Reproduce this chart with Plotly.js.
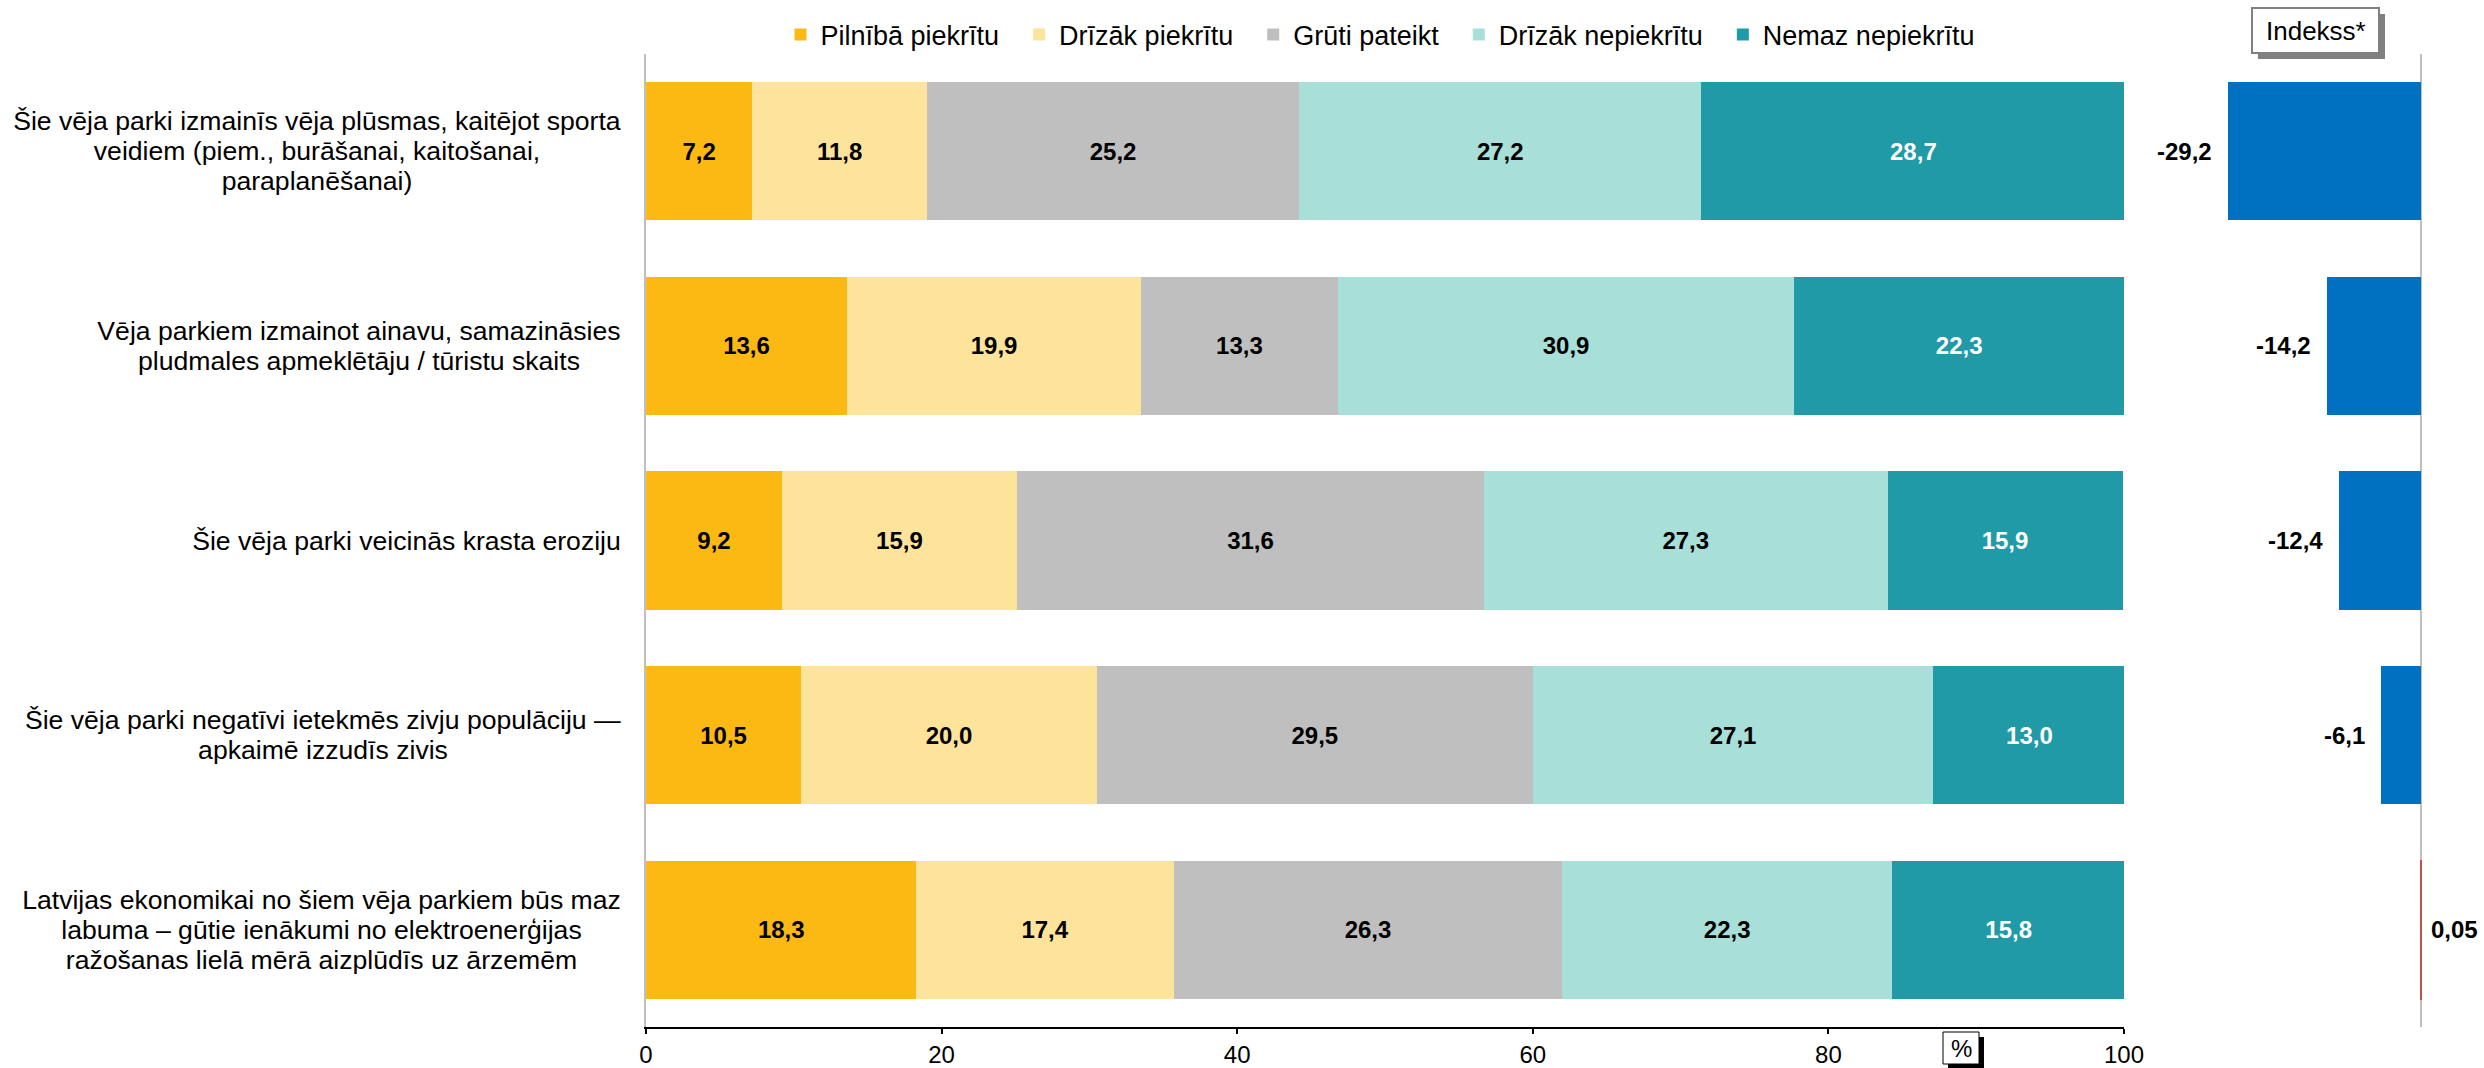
<!DOCTYPE html>
<html>
<head>
<meta charset="utf-8">
<script src="https://cdn.plot.ly/plotly-3.0.1.min.js"></script>
<style>html,body{margin:0;padding:0;background:#fff;}#chart{width:2484px;height:1068px;}</style>
</head>
<body>
<div id="chart"></div>
<script>
// ---- Data ----
const categories = [
  "Šie vēja parki izmainīs vēja plūsmas, kaitējot sporta<br>veidiem (piem., burāšanai, kaitošanai,<br>paraplanēšanai)",
  "Vēja parkiem izmainot ainavu, samazināsies<br>pludmales apmeklētāju / tūristu skaits",
  "Šie vēja parki veicinās krasta eroziju",
  "Šie vēja parki negatīvi ietekmēs zivju populāciju —<br>apkaimē izzudīs zivis",
  "Latvijas ekonomikai no šiem vēja parkiem būs maz<br>labuma – gūtie ienākumi no elektroenerģijas<br>ražošanas lielā mērā aizplūdīs uz ārzemēm"
];
const seriesNames = ["Pilnībā piekrītu", "Drīzāk piekrītu", "Grūti pateikt", "Drīzāk nepiekrītu", "Nemaz nepiekrītu"];
const pilnibaPiekritu   = [7.2, 13.6, 9.2, 10.5, 18.3];
const drizakPiekritu    = [11.8, 19.9, 15.9, 20.0, 17.4];
const grutiPateikt      = [25.2, 13.3, 31.6, 29.5, 26.3];
const drizakNepiekritu  = [27.2, 30.9, 27.3, 27.1, 22.3];
const nemazNepiekritu   = [28.7, 22.3, 15.9, 13.0, 15.8];
const indekss           = [-29.2, -14.2, -12.4, -6.1, 0.05];
const xTickVals = [0, 20, 40, 60, 80, 100];

// ---- Styles ----
const FONT = "Liberation Sans, Arial, sans-serif";
const colors = ["#FDB913", "#FDE49A", "#BFBFBF", "#A8DFD8", "#1F9AA6"];
const textColors = ["#000", "#000", "#000", "#000", "#fff"];
const seriesValues = [pilnibaPiekritu, drizakPiekritu, grutiPateikt, drizakNepiekritu, nemazNepiekritu];

const W = 2484, H = 1068;
const L = 646, R = 0, T = 54, B = 41;
const plotW = W - L - R, plotH = H - T - B;
const px2x = p => (p - L) / plotW;
const px2y = p => (H - B - p) / plotH;

const fmt1 = v => v.toFixed(1).replace('.', ',');
const fmtIdx = v => String(v).replace('.', ',');
const NBSP = '\u00a0';

const LABEL_SIZE = 26.6;
const canvas = document.createElement('canvas');
const ctx = canvas.getContext('2d');
ctx.font = LABEL_SIZE + 'px "Liberation Sans", Arial, sans-serif';
const measure = s => ctx.measureText(s).width;

const traces = seriesValues.map((vals, i) => ({
  type: 'bar',
  orientation: 'h',
  name: seriesNames[i] + (i < seriesNames.length - 1 ? NBSP.repeat(2) : ''),
  x: vals,
  y: categories,
  xaxis: 'x',
  yaxis: 'y',
  marker: {color: colors[i], line: {width: 0}},
  text: vals.map(fmt1),
  textposition: 'inside',
  insidetextanchor: 'middle',
  constraintext: 'none',
  textfont: {family: FONT, size: 24, weight: 'bold', color: textColors[i]},
  hoverinfo: 'x+name'
}));

traces.push({
  type: 'bar',
  orientation: 'h',
  name: 'Indekss*',
  x: indekss,
  y: categories,
  xaxis: 'x2',
  yaxis: 'y',
  showlegend: false,
  marker: {
    color: indekss.map(v => v >= 0 ? '#C0504D' : '#0070C0'),
    line: {width: indekss.map(v => v >= 0 ? 1.5 : 0), color: indekss.map(v => v >= 0 ? '#C0504D' : '#0070C0')}
  },
  hoverinfo: 'x'
});

const LINE_H = 30;
const annotations = [];
categories.forEach((c, i) => {
  const lines = c.split('<br>');
  const boxW = Math.ceil(Math.max(...lines.map(measure))) + 6;
  lines.forEach((ln, k) => {
    annotations.push({
      xref: 'paper', yref: 'y', x: 0, y: c,
      xanchor: 'right', yanchor: 'middle', xshift: -20,
      yshift: -(k - (lines.length - 1) / 2) * LINE_H,
      text: ln, align: 'center', showarrow: false,
      width: boxW,
      font: {family: FONT, size: LABEL_SIZE, color: '#000'}
    });
  });
  const v = indekss[i];
  annotations.push({
    xref: 'x2', yref: 'y', x: v, y: c,
    xanchor: v < 0 ? 'right' : 'left', yanchor: 'middle',
    xshift: v < 0 ? -14 : 8,
    text: fmtIdx(v), showarrow: false,
    font: {family: FONT, size: 24, weight: 'bold', color: '#000'}
  });
});
annotations.push({
  xref: 'paper', yref: 'paper', x: px2x(2315.5), y: px2y(31),
  xanchor: 'center', yanchor: 'middle', text: 'Indekss*', showarrow: false,
  font: {family: FONT, size: 26, color: '#000'}
});
annotations.push({
  xref: 'paper', yref: 'paper', x: px2x(1961), y: px2y(1048),
  xanchor: 'center', yanchor: 'middle', text: '%', showarrow: false,
  font: {family: FONT, size: 24, color: '#000'}
});

const shapes = [
  {type: 'rect', xref: 'paper', yref: 'paper', x0: px2x(2258), x1: px2x(2385), y0: px2y(59), y1: px2y(14),
   fillcolor: '#808080', line: {width: 0}, layer: 'above'},
  {type: 'rect', xref: 'paper', yref: 'paper', x0: px2x(2252), x1: px2x(2379), y0: px2y(53), y1: px2y(8),
   fillcolor: '#ffffff', line: {width: 2, color: '#808080'}, layer: 'above'},
  {type: 'rect', xref: 'paper', yref: 'paper', x0: px2x(1948), x1: px2x(1984), y0: px2y(1068), y1: px2y(1037),
   fillcolor: '#000000', line: {width: 0}, layer: 'above'},
  {type: 'rect', xref: 'paper', yref: 'paper', x0: px2x(1943), x1: px2x(1979), y0: px2y(1064), y1: px2y(1032),
   fillcolor: '#ffffff', line: {width: 1, color: '#000000'}, layer: 'above'}
];

const xMainEnd = px2x(2124);
const x2Start = px2x(2150);
const unit = 6.61;
const x2Range = [-(2421 - 2150) / unit, (W - R - 2421) / unit];

const layout = {
  width: W, height: H,
  margin: {l: L, r: R, t: T, b: B},
  paper_bgcolor: '#fff', plot_bgcolor: 'rgba(0,0,0,0)',
  font: {family: FONT, size: 25, color: '#000'},
  barmode: 'stack',
  bargap: 0.29,
  showlegend: true,
  legend: {
    orientation: 'h', xref: 'paper', yref: 'paper',
    x: px2x(1380), xanchor: 'center', y: px2y(35), yanchor: 'middle',
    font: {family: FONT, size: 27, color: '#000'},
    traceorder: 'normal', itemclick: false, itemdoubleclick: false,
    bgcolor: 'rgba(0,0,0,0)', itemwidth: 30
  },
  xaxis: {
    domain: [0, xMainEnd], range: [0, 100],
    tickvals: xTickVals, ticktext: xTickVals.map(String),
    ticks: 'outside', ticklen: 5, tickcolor: '#000', tickwidth: 2,
    showline: true, linecolor: '#000', linewidth: 2,
    showgrid: false, zeroline: false, fixedrange: true,
    tickfont: {family: FONT, size: 24, color: '#000'},
    ticklabelstandoff: 0
  },
  xaxis2: {
    domain: [x2Start, 1], range: x2Range, anchor: 'y',
    showticklabels: false, ticks: '', showgrid: false, showline: false,
    zeroline: true, zerolinecolor: '#BFBFBF', zerolinewidth: 2, fixedrange: true
  },
  yaxis: {
    type: 'category', autorange: false, range: [categories.length - 0.5, -0.5],
    showticklabels: false, ticks: '', showgrid: false, zeroline: false,
    showline: true, linecolor: '#BFBFBF', linewidth: 2, fixedrange: true
  },
  annotations: annotations,
  shapes: shapes
};

document.fonts.load(LABEL_SIZE + 'px "Liberation Sans"').then(() => {
  ctx.font = LABEL_SIZE + 'px "Liberation Sans", Arial, sans-serif';
  Plotly.newPlot('chart', traces, layout, {displayModeBar: false, staticPlot: true});
});
</script>
</body>
</html>
